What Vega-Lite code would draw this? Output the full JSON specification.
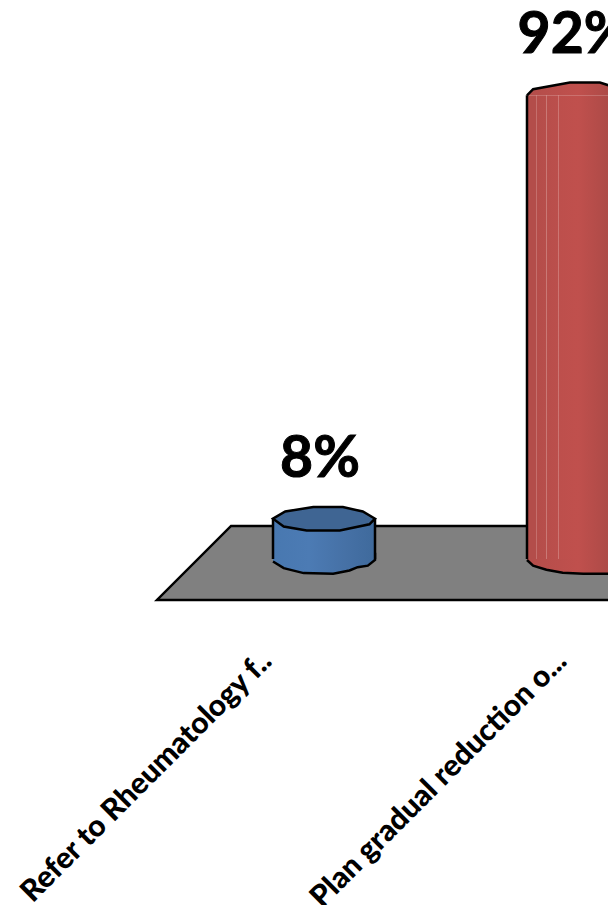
{
  "$schema": "https://vega.github.io/schema/vega-lite/v6.json",
  "width": 608,
  "height": 905,
  "padding": 0,
  "autosize": {"type": "none"},
  "background": "white",
  "config": {"view": {"stroke": null}},
  "layer": [
    {
      "data": {"values": [
        {"depth": 0.3425, "front": -0.0813, "back": -0.0813},
        {"depth": 0.634, "front": -0.0813, "back": 0.0655},
        {"depth": 2.3, "front": -0.0813, "back": 0.0655}
      ]},
      "mark": {"type": "area", "orient": "vertical", "fill": "#808080", "stroke": "black", "strokeWidth": 2.5},
      "encoding": {
        "x": {"field": "depth", "type": "quantitative", "axis": null, "scale": {"domain": [-0.2756, 2.118], "nice": false}},
        "y": {"field": "front", "type": "quantitative", "axis": null, "scale": {"domain": [-0.6865, 1.1091], "nice": false}},
        "y2": {"field": "back"}
      }
    },
    {
      "data": {"values": [
        {"category": "Refer to Rheumatology f..", "share": 0.08, "floor": 0},
        {"category": "Plan gradual reduction o...", "share": 0.92, "floor": 0}
      ]},
      "encoding": {
        "x": {
          "field": "category",
          "type": "nominal",
          "sort": null,
          "title": null,
          "scale": {"range": [273, 629], "paddingInner": 0.5984, "paddingOuter": 0},
          "axis": {
            "orient": "bottom",
            "offset": -255,
            "domain": false,
            "ticks": false,
            "grid": false,
            "labelAngle": -45,
            "labelAlign": "right",
            "labelBaseline": "middle",
            "labelPadding": 6,
            "labelOffset": {"condition": {"test": "datum.label == 'Plan gradual reduction o...'", "value": -16}, "value": -57},
            "labelFont": "Lato",
            "labelFontWeight": 900,
            "labelFontSize": 30,
            "labelColor": "black",
            "labelLimit": 0
          }
        }
      },
      "layer": [
        {
          "mark": {"type": "point", "filled": true, "size": 10404, "stroke": "black", "strokeWidth": 2.5, "opacity": 1},
          "encoding": {
            "y": {"field": "floor", "type": "quantitative", "axis": null, "scale": {"domain": [-0.6865, 1.1091], "nice": false}},
            "shape": {
              "condition": {"test": "datum.share < 0.5", "value": "M-1,0.05 L-0.79,0.18 L-0.4,0.277 L0.18,0.29 L0.5,0.226 L0.66,0.16 L0.86,0.13 L1,0.02 L1,-0.1 L-1,-0.1"},
              "value": "M-1,0.02 L-0.88,0.13 L-0.62,0.21 L-0.3,0.27 L0.1,0.29 L0.6,0.29 L1,0.25 L1,-0.1 L-1,-0.1"
            },
            "fill": {
              "condition": {"test": "datum.share < 0.5", "value": {"gradient": "linear", "x1": 0, "y1": 0, "x2": 1, "y2": 0, "stops": [{"offset": 0, "color": "#4878b0"}, {"offset": 0.35, "color": "#4c7bb4"}, {"offset": 0.7, "color": "#4671a6"}, {"offset": 1, "color": "#3f6a9c"}]}},
              "value": {"gradient": "linear", "x1": 0, "y1": 0, "x2": 1, "y2": 0, "stops": [{"offset": 0, "color": "#b34d4a"}, {"offset": 0.5, "color": "#c0504d"}, {"offset": 0.8, "color": "#ad4a47"}, {"offset": 1, "color": "#a04542"}]}
            }
          }
        },
        {
          "mark": {"type": "bar"},
          "encoding": {
            "y": {"field": "floor", "type": "quantitative", "axis": null, "scale": {"domain": [-0.6865, 1.1091], "nice": false}},
            "y2": {"field": "share"},
            "fill": {
              "condition": {"test": "datum.share < 0.5", "value": {"gradient": "linear", "x1": 0, "y1": 0, "x2": 1, "y2": 0, "stops": [{"offset": 0, "color": "#4878b0"}, {"offset": 0.35, "color": "#4c7bb4"}, {"offset": 0.7, "color": "#4671a6"}, {"offset": 1, "color": "#3f6a9c"}]}},
              "value": {"gradient": "linear", "x1": 0, "y1": 0, "x2": 1, "y2": 0, "stops": [{"offset": 0, "color": "#b34d4a"}, {"offset": 0.085, "color": "#b34d4a"}, {"offset": 0.09, "color": "#cc7f7c"}, {"offset": 0.1, "color": "#b54d4a"}, {"offset": 0.185, "color": "#b74e4b"}, {"offset": 0.19, "color": "#cc7f7c"}, {"offset": 0.2, "color": "#b84e4b"}, {"offset": 0.3, "color": "#bb4f4c"}, {"offset": 0.305, "color": "#d68f8c"}, {"offset": 0.315, "color": "#bd4f4c"}, {"offset": 0.5, "color": "#c0504d"}, {"offset": 0.8, "color": "#ad4a47"}, {"offset": 1, "color": "#a04542"}]}
            }
          }
        },
        {
          "mark": {"type": "rule", "stroke": "black", "strokeWidth": 2.5},
          "encoding": {
            "x": {"field": "category", "type": "nominal", "sort": null, "bandPosition": 0},
            "y": {"field": "floor", "type": "quantitative", "axis": null, "scale": {"domain": [-0.6865, 1.1091], "nice": false}},
            "y2": {"field": "share"}
          }
        },
        {
          "mark": {"type": "rule", "stroke": "black", "strokeWidth": 2.5},
          "encoding": {
            "x": {"field": "category", "type": "nominal", "sort": null, "bandPosition": 1},
            "y": {"field": "floor", "type": "quantitative", "axis": null, "scale": {"domain": [-0.6865, 1.1091], "nice": false}},
            "y2": {"field": "share"}
          }
        },
        {
          "mark": {"type": "point", "filled": true, "size": 10404, "stroke": "black", "strokeWidth": 2.5, "opacity": 1},
          "encoding": {
            "y": {"field": "share", "type": "quantitative", "axis": null, "scale": {"domain": [-0.6865, 1.1091], "nice": false}},
            "shape": {
              "condition": {"test": "datum.share < 0.5", "value": "M-1,0 L-0.76,-0.14 L-0.21,-0.23 L0.37,-0.23 L0.76,-0.14 L1,0 L0.89,0.11 L0.31,0.23 L-0.34,0.23 L-0.79,0.155 Z"},
              "value": "M-1,0 L-0.88,-0.12 L-0.16,-0.25 L0.43,-0.25 L0.78,-0.14 L1,0"
            },
            "fill": {
              "condition": {"test": "datum.share < 0.5", "value": "#3f6593"},
              "value": {"gradient": "linear", "x1": 0, "y1": 0, "x2": 1, "y2": 0, "stops": [{"offset": 0, "color": "#b34d4a"}, {"offset": 0.5, "color": "#c0504d"}, {"offset": 0.8, "color": "#ad4a47"}, {"offset": 1, "color": "#a04542"}]}
            }
          }
        },
        {
          "mark": {"type": "text", "font": "Lato", "fontWeight": "bold", "fontSize": 57, "color": "black", "stroke": "black", "strokeWidth": 1, "baseline": "alphabetic", "dx": -4, "dy": -42},
          "encoding": {
            "y": {"field": "share", "type": "quantitative", "axis": null, "scale": {"domain": [-0.6865, 1.1091], "nice": false}},
            "text": {"field": "share", "type": "quantitative", "format": ".0%"}
          }
        }
      ]
    }
  ],
  "resolve": {"scale": {"x": "independent"}}
}
